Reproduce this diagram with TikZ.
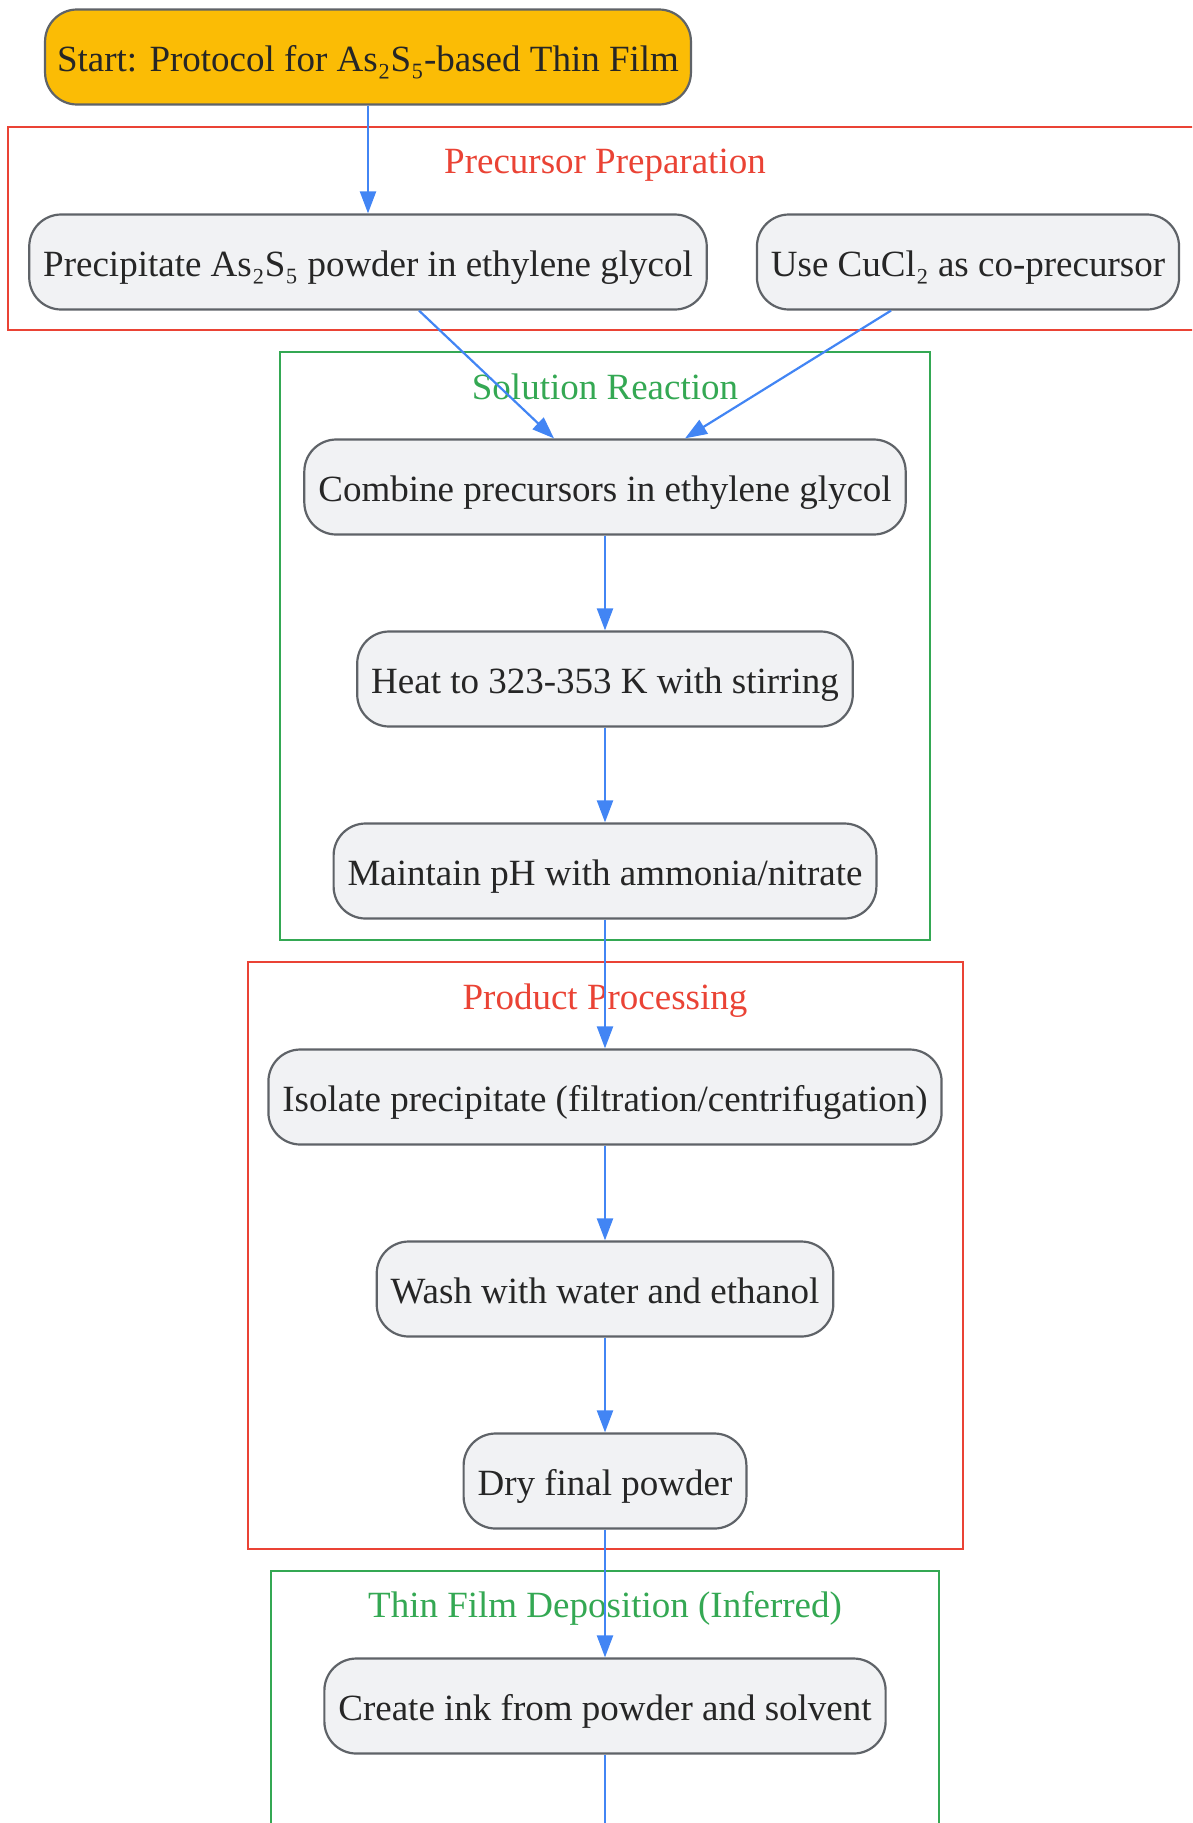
\documentclass[tikz,border=0pt]{standalone}
\usepackage{fontspec}
\setmainfont{Liberation Serif}
\usetikzlibrary{positioning, arrows.meta}
\definecolor{gblue}{HTML}{4285F4}
\definecolor{gred}{HTML}{EA4335}
\definecolor{ggreen}{HTML}{34A853}
\definecolor{gyellow}{HTML}{FBBC05}
\definecolor{boxfill}{HTML}{F1F2F4}
\definecolor{boxline}{HTML}{5F6368}
\tikzstyle{startnode} = [rectangle, rounded corners=32pt, minimum height=95pt, inner xsep=12pt, text height=28pt, text depth=0pt, text centered, draw=boxline, line width=2.2pt, fill=gyellow, text=black!85]
\tikzstyle{stepnode} = [rectangle, rounded corners=32pt, minimum height=95pt, inner xsep=14pt, text height=28pt, text depth=0pt, text centered, draw=boxline, line width=2.2pt, fill=boxfill, text=black!85]
\tikzstyle{arrow} = [line width=2.2pt, draw=gblue, -{Triangle[length=22pt,width=16pt]}, fill=gblue]
\tikzstyle{line} = [line width=2.2pt, draw=gblue]
\tikzstyle{cluster} = [line width=2.2pt]
\tikzstyle{clustertitle} = [anchor=base, inner sep=0pt]

\begin{document}
\begin{tikzpicture}[x=1pt, y=-1pt, node distance=192pt, font=\fontsize{37}{44}\selectfont]
\clip (0,0) rectangle (1192,1823);

% clusters
\draw [cluster, gred] (8,127) rectangle (1200,330);
\node (ttlprec) [clustertitle, text=gred] at (605,173) {Precursor Preparation};
\draw [cluster, ggreen] (280,352) rectangle (930,940);
\node (ttlsol) [clustertitle, text=ggreen] at (605,399) {Solution Reaction};
\draw [cluster, gred] (248,962) rectangle (963,1549);
\node (ttlprod) [clustertitle, text=gred] at (605,1009) {Product Processing};
\draw [cluster, ggreen] (271,1571) rectangle (939,1900);
\node (ttlfilm) [clustertitle, text=ggreen] at (605,1617) {Thin Film Deposition (Inferred)};

% steps
\node (start) [startnode] at (368,57) {Start: Protocol for As₂S₅-based Thin Film};
\node (prec) [stepnode] at (368,262) {Precipitate As₂S₅ powder in ethylene glycol};
\node (cucl) [stepnode] at (968,262) {Use CuCl₂ as co-precursor};
\node (comb) [stepnode] at (605,487) {Combine precursors in ethylene glycol};
\node (heat) [stepnode, below of=comb] {Heat to 323-353 K with stirring};
\node (maint) [stepnode, below of=heat] {Maintain pH with ammonia/nitrate};
\node (iso) [stepnode, below of=maint, yshift=-34pt] {Isolate precipitate (filtration/centrifugation)};
\node (wash) [stepnode, below of=iso] {Wash with water and ethanol};
\node (dry) [stepnode, below of=wash] {Dry final powder};
\node (ink) [stepnode, below of=dry, yshift=-33pt] {Create ink from powder and solvent};
\coordinate (inkout) at (605,1823);

\draw [arrow] (start) -- (prec);
\draw [arrow] ([xshift=51pt]prec.south) -- ([xshift=-51pt]comb.north);
\draw [arrow] ([xshift=-77pt]cucl.south) -- ([xshift=80pt]comb.north);
\draw [arrow] (comb) -- (heat);
\draw [arrow] (heat) -- (maint);
\draw [arrow] (maint) -- (iso);
\draw [arrow] (iso) -- (wash);
\draw [arrow] (wash) -- (dry);
\draw [arrow] (dry) -- (ink);
\draw [line] (ink) -- (inkout);

\end{tikzpicture}
\end{document}
